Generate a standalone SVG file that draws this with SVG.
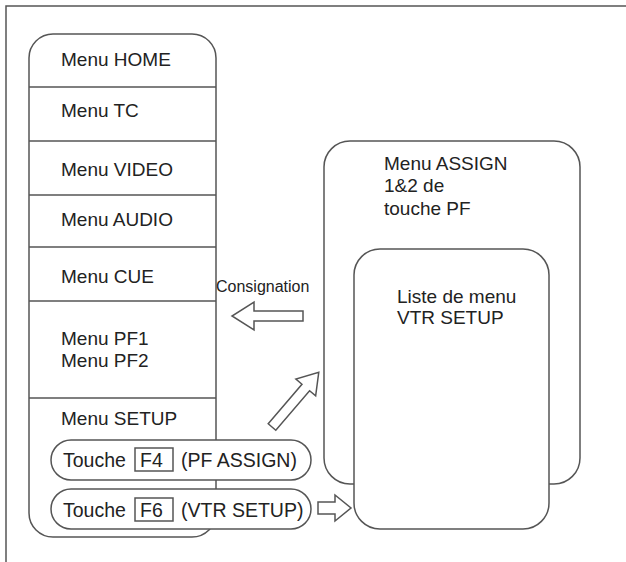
<svg xmlns="http://www.w3.org/2000/svg" width="626" height="562" viewBox="0 0 626 562">
<style>
.s{fill:#fff;stroke:#555;stroke-width:1.5}
.l{stroke:#555;stroke-width:1.5;fill:none}
text{font-family:"Liberation Sans",Arial,sans-serif;font-size:19px;fill:#222}
.k{font-size:19.5px}
.c{font-size:16px}
</style>
<rect width="626" height="562" fill="#fff"/>
<path class="l" d="M6,562 V6 H626" stroke="#999"/>
<g id="menus">
<rect class="s" x="29" y="34" width="187" height="503" rx="24"/>
<path class="l" d="M29,87H216M29,141H216M29,195H216M29,247H216M29,301H216M29,398H216"/>
<text x="61" y="66">Menu HOME</text>
<text x="61" y="117">Menu TC</text>
<text x="61" y="176">Menu VIDEO</text>
<text x="61" y="226">Menu AUDIO</text>
<text x="61" y="283">Menu CUE</text>
<text x="61" y="345">Menu PF1</text>
<text x="61" y="367">Menu PF2</text>
<text x="61" y="425">Menu SETUP</text>
</g>
<g id="assign">
<rect class="s" x="324" y="141" width="256" height="343" rx="26"/>
<text x="384" y="170">Menu ASSIGN</text>
<text x="384" y="192">1&amp;2 de</text>
<text x="384" y="215">touche PF</text>
</g>
<g id="vtr">
<rect class="s" x="354" y="249" width="195" height="280" rx="26"/>
<text x="397" y="303">Liste de menu</text>
<text x="397" y="324">VTR SETUP</text>
</g>
<g id="f4">
<rect class="s" x="51" y="440" width="260" height="40" rx="20"/>
<text class="k" x="63" y="467">Touche</text>
<rect class="l" x="135" y="448" width="38" height="23"/>
<text class="k" x="140" y="467">F4</text>
<text class="k" x="181" y="467">(PF ASSIGN)</text>
</g>
<g id="f6">
<rect class="s" x="51" y="489" width="260" height="40" rx="20"/>
<text class="k" x="63" y="517">Touche</text>
<rect class="l" x="135" y="498" width="38" height="23"/>
<text class="k" x="140" y="517">F6</text>
<text class="k" x="181" y="517">(VTR SETUP)</text>
</g>
<g id="connectors">
<text class="c" x="216" y="292">Consignation</text>
<polygon class="s" points="303,311 254,311 254,302 232,316 254,330 254,321 303,321"/>
<polygon class="s" transform="translate(272,427) rotate(-49.5)" points="0,-5 52,-5 52,-13 72,0 52,13 52,5 0,5"/>
<polygon class="s" points="318,502 335,502 335,495 351,508 335,521 335,514 318,514"/>
</g>
</svg>
